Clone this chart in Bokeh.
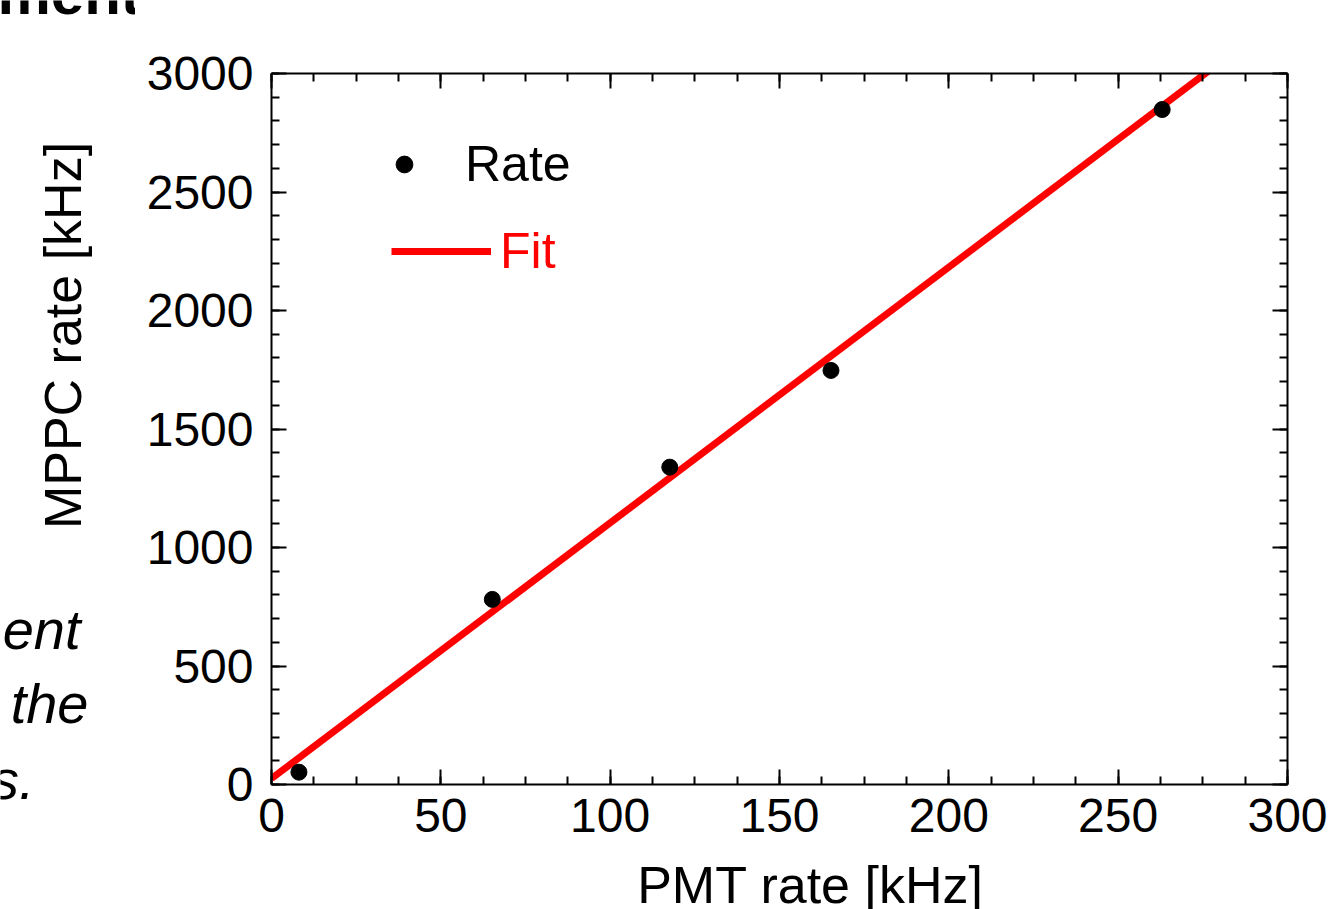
from bokeh.plotting import figure
from bokeh.models import (Range1d, LinearAxis, SingleIntervalTicker, Label,
                          Legend, LegendItem)
from bokeh.layouts import column, row
from bokeh.embed import file_html
from bokeh.resources import INLINE
import math

# ---- data ----
pmt_rate = [8.1, 65.2, 117.6, 165.2, 263.0]          # kHz
mppc_rate = [52, 781, 1339, 1747, 2848]               # kHz
fit_x = [0, 300]
fit_y = [25, 3262]
x_tick_interval = 50
y_tick_interval = 500
x_title = "PMT rate [kHz]"
y_title = "MPPC rate [kHz]"
slide_lines = ["ent", "the", "s."]
slide_head = "ment."

FONT = "Liberation Sans"
LEFT_W = 135
RIGHT_W = 1329 - LEFT_W
FRAME_X0, FRAME_X1 = 271, 1287   # page x of the chart frame (strips align to it)


def blank(width, height, x0, x1, y0, y1):
    # a plain canvas whose data units are page pixels (y grows downward)
    f = figure(width=width, height=height, x_range=Range1d(x0, x1),
               y_range=Range1d(y1, y0), output_backend="svg",
               toolbar_location=None, x_axis_location=None,
               y_axis_location=None, min_border=0)
    f.xgrid.visible = False
    f.ygrid.visible = False
    f.outline_line_color = None
    f.background_fill_color = "white"
    f.border_fill_color = "white"
    return f


# ---- main chart ----
p = figure(width=RIGHT_W, height=834,
           x_range=Range1d(0, 300), y_range=Range1d(0, 3000),
           output_backend="svg", toolbar_location=None,
           min_border_left=136, min_border_top=53,
           min_border_right=42, min_border_bottom=70,
           x_axis_location=None, y_axis_location=None)
p.xgrid.visible = False
p.ygrid.visible = False
p.outline_line_color = None
p.background_fill_color = "white"
p.border_fill_color = "white"


def style_axis(ax, show_labels):
    ax.axis_line_color = "black"
    ax.axis_line_width = 2
    ax.major_tick_line_color = "black"
    ax.major_tick_line_width = 2
    ax.minor_tick_line_color = "black"
    ax.minor_tick_line_width = 2
    ax.major_tick_in = 15
    ax.major_tick_out = 0
    ax.minor_tick_in = 8
    ax.minor_tick_out = 0
    ax.major_label_text_font = FONT
    ax.major_label_text_color = "black"
    if show_labels:
        ax.major_label_text_font_size = "48px"
    else:
        ax.major_label_text_font_size = "0px"
        ax.major_label_standoff = 0


def xt():
    return SingleIntervalTicker(interval=x_tick_interval, num_minor_ticks=4)


def yt():
    return SingleIntervalTicker(interval=y_tick_interval, num_minor_ticks=5)


xb = LinearAxis(ticker=xt()); style_axis(xb, True); xb.major_label_standoff = 14
xa = LinearAxis(ticker=xt()); style_axis(xa, False)
yl = LinearAxis(ticker=yt()); style_axis(yl, True); yl.major_label_standoff = 18
yr = LinearAxis(ticker=yt()); style_axis(yr, False)
p.add_layout(xb, "below")
p.add_layout(xa, "above")
p.add_layout(yl, "left")
p.add_layout(yr, "right")

fit_r = p.line(fit_x, fit_y, line_color="#ff0000", line_width=7)
pts_r = p.scatter(pmt_rate, mppc_rate, size=16, color="black", marker="circle")

leg1 = Legend(items=[LegendItem(label="Rate", renderers=[pts_r])],
              location=(112, 591), padding=0, margin=0,
              glyph_width=42, glyph_height=42, label_standoff=40,
              label_text_font=FONT, label_text_font_size="50px",
              label_text_color="black",
              border_line_color=None, background_fill_alpha=0)
leg2 = Legend(items=[LegendItem(label="Fit", renderers=[fit_r])],
              location=(120, 504), padding=0, margin=0,
              glyph_width=100, glyph_height=42, label_standoff=9,
              label_text_font=FONT, label_text_font_size="50px",
              label_text_color="#ff0000",
              border_line_color=None, background_fill_alpha=0)
p.add_layout(leg1)
p.add_layout(leg2)

# ---- left column: slide fragments + y title (page pixel coordinates) ----
left = blank(LEFT_W, 909, 0, LEFT_W, 0, 909)
left.add_layout(Label(x=157, y=-7, text=slide_head, text_font=FONT,
                      text_font_size="60px", text_font_style="bold",
                      text_align="right", text_baseline="middle",
                      text_color="black"))
left.add_layout(Label(x=62, y=335, text=y_title, text_font=FONT,
                      text_font_size="52px", angle=math.pi / 2,
                      text_align="center", text_baseline="middle",
                      text_color="black"))
for txt, lx, ly in zip(slide_lines, [80, 88, 34], [629, 703, 779]):
    left.add_layout(Label(x=lx, y=ly, text=txt, text_font=FONT,
                          text_font_size="56px", text_font_style="italic",
                          text_align="right", text_baseline="middle",
                          text_color="black"))

top = blank(RIGHT_W, 20, FRAME_X0, FRAME_X1, 0, 20)

bottom = blank(RIGHT_W, 55, FRAME_X0, FRAME_X1, 854, 909)
bottom.add_layout(Label(x=810, y=884, text=x_title, text_font=FONT,
                        text_font_size="52px", text_align="center",
                        text_baseline="middle", text_color="black"))

layout = row(left, column(top, p, bottom, spacing=0), spacing=0)
open("out.html", "w").write(file_html(layout, INLINE))
